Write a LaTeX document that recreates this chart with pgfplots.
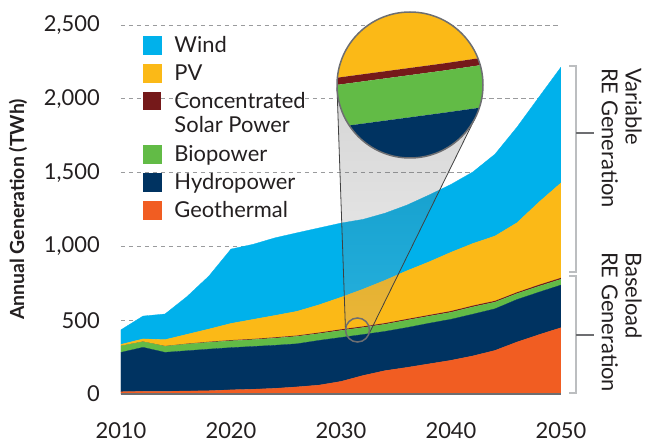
\documentclass[border=0pt]{standalone}
\usepackage{pgfplots}
\pgfplotsset{compat=1.18}
\usepackage{pgfplotstable}
\usepackage{fontspec}
\setmainfont{Lato}
\definecolor{cWind}{HTML}{00B1EB}
\definecolor{cPV}{HTML}{FBB917}
\definecolor{cCSP}{HTML}{75191A}
\definecolor{cBio}{HTML}{62BB46}
\definecolor{cHydro}{HTML}{003361}
\definecolor{cGeo}{HTML}{F15D22}
\definecolor{cText}{HTML}{231F20}
\definecolor{cAxis}{HTML}{6D6E71}
\definecolor{cBrack}{HTML}{BCBEC0}
\definecolor{cGrid}{HTML}{9A9B9D}

\pgfplotstableread{
year geo hydro bio csp pv wind
2010 15 267 43 1 10 99
2012 18 298 38 1 18 155
2014 18 264 41 2 43 174
2016 20 273 45 3 63 256
2018 22 282 46 4 86 360
2020 28 286 46 5 113 504
2022 32 290 46 5 132 509
2024 38 292 48 6 148 526
2026 48 292 50 6 164 532
2028 60 303 46 7 188 521
2030 85 298 47 8 217 503
2032 125 278 47 8 252 473
2034 158 266 48 8 290 455
2036 180 270 50 8 327 445
2038 204 275 48 8 360 453
2040 228 278 47 9 398 460
2042 258 283 49 9 421 485
2044 295 282 45 9 439 555
2046 352 288 40 9 471 648
2048 402 288 40 10 560 712
2050 449 289 39 10 643 785
}\gen

\newcommand{\ls}{\rule[-7bp]{0pt}{28bp}}
\pgfplotsset{
  sqlegend/.style={legend image code/.code={\fill[##1] (0bp,-9bp) rectangle (18bp,9bp);}},
  csplegend/.style={legend image code/.code={\fill[##1] (0bp,3.7bp) rectangle (18bp,21.7bp); \path (0bp,-21.7bp);}},
}

\begin{document}
\begin{tikzpicture}
\useasboundingbox (-121bp,-51bp) rectangle (526bp,394bp);
\begin{axis}[
  at={(0,0)}, anchor=south west,
  scale only axis, width=440bp, height=369bp,
  xmin=2010, xmax=2050, ymin=0, ymax=2500,
  axis line style={draw=none},
  major tick length=0pt,
  xtick={2010,2020,2030,2040,2050},
  ytick={0,500,1000,1500,2000,2500},
  ymajorgrids,
  grid style={cGrid, line width=0.9bp, dash pattern=on 4.5bp off 3.5bp},
  tick label style={font=\fontsize{22}{26}\selectfont, text=cText, inner sep=0pt},
  /pgf/number format/assume math mode=true,
  yticklabel style={anchor=east, xshift=-21bp, /pgf/number format/1000 sep={,}},
  xticklabel style={anchor=north, yshift=-28bp, /pgf/number format/1000 sep={}},
  ylabel={Annual Generation (TWh)},
  ylabel style={at={(axis description cs:0,0.5)}, anchor=center, yshift=103bp, font=\fontsize{19.5}{22}\selectfont\bfseries, text=cText},
  stack plots=y,
  reverse legend,
  legend cell align=left,
  legend style={at={(0.05,0.9837)}, anchor=north west, draw=none, fill=none, inner sep=0pt, column sep=13bp, font=\fontsize{22}{28}\selectfont, text=cText, nodes={inner sep=0pt, text depth=}},
  sqlegend,
  after end axis/.code={\draw[cAxis, line width=2.5bp] (rel axis cs:0,0) -- (rel axis cs:1,0);},
]
\addplot[fill=cGeo, draw=cGeo, line width=0.3bp] table[x=year,y=geo]{\gen} \closedcycle;
\addlegendentry{\ls Geothermal}
\addplot[fill=cHydro, draw=cHydro, line width=0.3bp] table[x=year,y=hydro]{\gen} \closedcycle;
\addlegendentry{\ls Hydropower}
\addplot[fill=cBio, draw=cBio, line width=0.3bp] table[x=year,y=bio]{\gen} \closedcycle;
\addlegendentry{\ls Biopower}
\addplot[fill=cCSP, draw=none, csplegend] table[x=year,y=csp]{\gen} \closedcycle;
\addlegendentry{\ls\begin{tabular}[t]{@{}l@{}}Concentrated\\[-4bp]Solar Power\end{tabular}}
\addplot[fill=cPV, draw=cPV, line width=0.3bp] table[x=year,y=pv]{\gen} \closedcycle;
\addlegendentry{\ls PV}
\addplot[fill=cWind, draw=cWind, line width=0.3bp] table[x=year,y=wind]{\gen} \closedcycle;
\addlegendentry{\ls Wind}
\end{axis}

% magnifier cone
\path[top color=black!75, bottom color=black!30, fill opacity=0.22]
  (247.3bp,58.7bp) arc[start angle=-26.2, end angle=182, radius=12bp]
  -- (216.0bp,306.5bp) -- (354.5bp,276.8bp) -- cycle;
\draw[black!75, line width=0.8bp] (224.5bp,63.6bp) -- (216.0bp,306.5bp);
\draw[black!75, line width=0.8bp] (247.3bp,58.7bp) -- (354.5bp,276.8bp);
\draw[cAxis, line width=1.5bp] (236.5bp,64bp) circle (12bp);

% magnified view
\begin{scope}
\clip (289bp,309bp) circle (73bp);
\fill[white] (289bp,309bp) circle (73bp);
\begin{axis}[at={(289bp,309bp)}, anchor=center, scale only axis, width=146bp, height=146bp,
  hide axis, xmin=2030.41, xmax=2032.59, ymin=352.7, ymax=515.3, stack plots=y]
\addplot[fill=cGeo, draw=none] table[x=year,y=geo]{\gen} \closedcycle;
\addplot[fill=cHydro, draw=none] table[x=year,y=hydro]{\gen} \closedcycle;
\addplot[fill=cBio, draw=none] table[x=year,y=bio]{\gen} \closedcycle;
\addplot[fill=cCSP, draw=none] table[x=year,y=csp]{\gen} \closedcycle;
\addplot[fill=cPV, draw=none] table[x=year,y=pv]{\gen} \closedcycle;
\addplot[fill=cWind, draw=none] table[x=year,y=wind]{\gen} \closedcycle;
\end{axis}
\end{scope}
\draw[cAxis, line width=1.5bp] (289bp,309bp) circle (73bp);

% brackets
\draw[cBrack, line width=1.5bp] (448bp,328bp) -- (455bp,328bp) -- (455bp,122bp) -- (448bp,122bp);
\draw[cAxis, line width=1.2bp] (455bp,261bp) -- (473bp,261bp);
\draw[cBrack, line width=1.5bp] (448bp,118bp) -- (455bp,118bp) -- (455bp,1bp) -- (448bp,1bp);
\draw[cAxis, line width=1.2bp] (455bp,59bp) -- (473bp,59bp);
\node[rotate=-90, anchor=north west, align=left, inner sep=0pt, font=\fontsize{22}{24}\selectfont, text=cText] at (521bp,326bp) {Variable\\RE Generation};
\node[rotate=-90, anchor=north west, align=left, inner sep=0pt, font=\fontsize{22}{24}\selectfont, text=cText] at (521bp,142bp) {Baseload\\RE Generation};
\end{tikzpicture}
\end{document}
